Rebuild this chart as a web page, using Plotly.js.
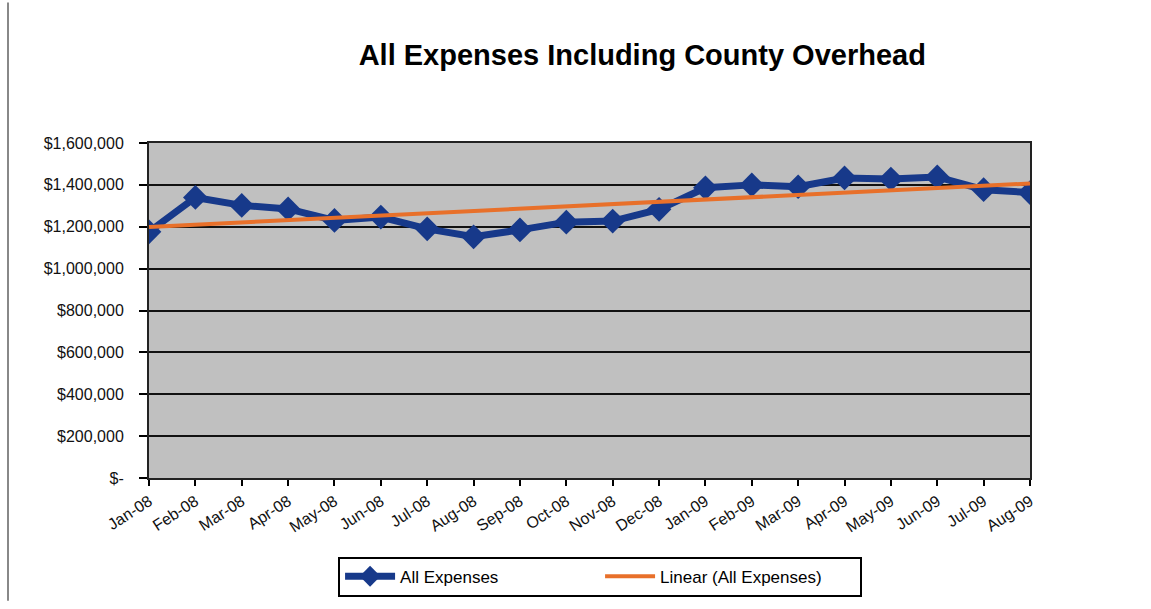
<!DOCTYPE html>
<html>
<head>
<meta charset="utf-8">
<script src="https://cdn.plot.ly/plotly-3.0.1.min.js"></script>
<style>html,body{margin:0;padding:0;background:#fff;}#chart{width:1151px;height:609px;}</style>
</head>
<body>
<div id="chart"></div>
<script>
const months = ["Jan-08","Feb-08","Mar-08","Apr-08","May-08","Jun-08","Jul-08","Aug-08","Sep-08","Oct-08","Nov-08","Dec-08","Jan-09","Feb-09","Mar-09","Apr-09","May-09","Jun-09","Jul-09","Aug-09"];
const allExpenses = [1176000,1340000,1302000,1285000,1230000,1246000,1190000,1152000,1185000,1222000,1227000,1283000,1386000,1400000,1391000,1433000,1428000,1438000,1377000,1363000];
const yTickVals = [0,200000,400000,600000,800000,1000000,1200000,1400000,1600000];
const yTickText = ["$-","$200,000","$400,000","$600,000","$800,000","$1,000,000","$1,200,000","$1,400,000","$1,600,000"];

const idx = months.map((_, i) => i);
// least-squares linear trendline of the series (Excel "Linear" trendline)
const n = allExpenses.length;
const mx = idx.reduce((a,b)=>a+b,0)/n;
const my = allExpenses.reduce((a,b)=>a+b,0)/n;
let sxy = 0, sxx = 0;
idx.forEach((x,i)=>{ sxy += (x-mx)*(allExpenses[i]-my); sxx += (x-mx)*(x-mx); });
const slope = sxy/sxx, icpt = my - slope*mx;
const trend = idx.map(x => icpt + slope*x);

const font = "'Liberation Sans Narrow', 'Arial Narrow', 'Liberation Sans', Arial, sans-serif";

const traces = [
  {x: idx, y: allExpenses, name: "All Expenses", type: "scatter", mode: "lines+markers",
   line: {color: "#17398a", width: 7}, marker: {symbol: "diamond", size: 19, color: "#17398a"}},
  {x: idx, y: trend, name: "Linear (All Expenses)", type: "scatter", mode: "lines",
   line: {color: "#e8702a", width: 4}}
];

const layout = {
  width: 1151, height: 609,
  margin: {l: 149, r: 121, t: 143, b: 125},
  paper_bgcolor: "#ffffff", plot_bgcolor: "#c0c0c0",
  font: {family: font, color: "#111", size: 15},
  title: {text: "<b>All Expenses Including County Overhead</b>", x: 0.558, xanchor: "center", y: 0.91, yanchor: "middle",
          font: {family: font, size: 29, color: "#000"}},
  xaxis: {range: [0, 19], tickvals: idx, ticktext: months, tickangle: -33, showgrid: false, zeroline: false,
          ticks: "outside", ticklen: 6, tickcolor: "#000", tickwidth: 2,
          showline: true, linecolor: "#222", linewidth: 2, mirror: true,
          tickfont: {family: font, size: 16, color: "#111"}, fixedrange: true},
  yaxis: {range: [0, 1600000], tickvals: yTickVals, ticktext: yTickText, showgrid: true, gridcolor: "#111", gridwidth: 2,
          zeroline: false, ticks: "outside", ticklen: 8, tickcolor: "#000", tickwidth: 2,
          ticklabelstandoff: 12,
          showline: true, linecolor: "#222", linewidth: 2, mirror: true,
          tickfont: {family: font, size: 16, color: "#111"}, fixedrange: true},
  legend: {orientation: "h", x: 0.512, xanchor: "center", y: -0.235, yanchor: "top",
           bordercolor: "#000", borderwidth: 2, bgcolor: "#fff", entrywidth: 195, entrywidthmode: "pixels",
           font: {family: font, size: 17, color: "#000"}, itemwidth: 50},
  shapes: [{type: "line", xref: "paper", yref: "paper", x0: (8-149)/881, x1: (8-149)/881, y0: -125/341, y1: 1+143/341,
            line: {color: "#888", width: 2}}],
  showlegend: true
};

Plotly.newPlot("chart", traces, layout, {displayModeBar: false, staticPlot: true});
</script>
</body>
</html>
